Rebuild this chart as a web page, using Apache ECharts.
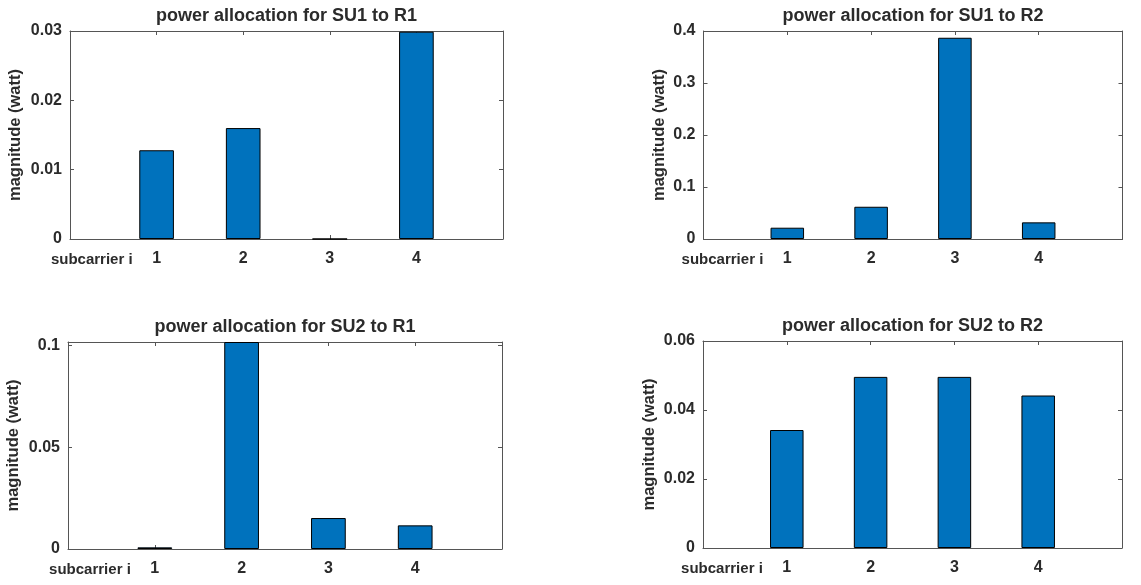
<!DOCTYPE html>
<html>
<head>
<meta charset="utf-8">
<script src="https://cdn.jsdelivr.net/npm/echarts@6/dist/echarts.min.js"></script>
<style>
html,body{margin:0;padding:0;background:#fff;}
#chart{width:1141px;height:585px;}
</style>
</head>
<body>
<div id="chart"></div>
<script>
// ---- data ----
const subcarriers = [1, 2, 3, 4];
const su1ToR1 = [0.0128, 0.0160, 0, 0.0299];
const su1ToR2 = [0.0217, 0.062, 0.387, 0.032];
const su2ToR1 = [0.0008, 0.1016, 0.0152, 0.0116];
const su2ToR2 = [0.0342, 0.0496, 0.0496, 0.0442];
const titles = ['power allocation for SU1 to R1', 'power allocation for SU1 to R2',
                'power allocation for SU2 to R1', 'power allocation for SU2 to R2'];
const yMax = [0.03, 0.4, 0.1016, 0.06];
const yInterval = [0.01, 0.1, 0.05, 0.02];
const yLabel = 'magnitude (watt)';
const xLabel = 'subcarrier i';

// ---- layout ----
const grids = [
  {left: 70, top: 31, width: 433, height: 208, yGap: 46},
  {left: 703.5, top: 31, width: 419, height: 208, yGap: 36},
  {left: 68, top: 342, width: 434, height: 207, yGap: 46},
  {left: 703, top: 341, width: 419, height: 207, yGap: 45}
];
const allSeries = [su1ToR1, su1ToR2, su2ToR1, su2ToR2];
const FONT = '"Liberation Sans", Arial, Helvetica, sans-serif';
const TEXT = '#2b2b2b';
const LINE = '#555555';
const BAR = '#0072BD';

const chart = echarts.init(document.getElementById('chart'));
const option = {
  animation: false,
  backgroundColor: '#fff',
  grid: [], xAxis: [], yAxis: [], series: [], graphic: []
};

grids.forEach((g, i) => {
  option.grid.push({left: g.left, top: g.top, width: g.width, height: g.height, show: false, containLabel: false});
  const iv = yInterval[i];
  // bottom x axis
  option.xAxis.push({
    type: 'value', gridIndex: i, min: 0, max: 5, interval: 1, position: 'bottom',
    axisLine: {show: true, onZero: false, lineStyle: {color: LINE, width: 1}},
    axisTick: {show: true, inside: true, length: 4, lineStyle: {color: LINE}},
    splitLine: {show: false},
    axisLabel: {
      show: true, margin: 12, color: TEXT, fontFamily: FONT, fontWeight: 'bold', fontSize: 16,
      formatter: v => (v >= 1 && v <= 4) ? String(v) : ''
    }
  });
  // top mirror x axis
  option.xAxis.push({
    type: 'value', gridIndex: i, min: 0, max: 5, interval: 1, position: 'top',
    axisLine: {show: true, onZero: false, lineStyle: {color: LINE, width: 1}},
    axisTick: {show: true, inside: true, length: 4, lineStyle: {color: LINE}},
    splitLine: {show: false}, axisLabel: {show: false}
  });
  // left y axis
  option.yAxis.push({
    type: 'value', gridIndex: i, min: 0, max: yMax[i], interval: iv, position: 'left',
    name: yLabel, nameLocation: 'middle', nameRotate: 90, nameGap: g.yGap,
    nameTextStyle: {color: TEXT, fontFamily: FONT, fontWeight: 'bold', fontSize: 16.5},
    axisLine: {show: true, onZero: false, lineStyle: {color: LINE, width: 1}},
    axisTick: {show: true, inside: true, length: 4, lineStyle: {color: LINE}},
    splitLine: {show: false},
    axisLabel: {
      show: true, margin: 8, color: TEXT, fontFamily: FONT, fontWeight: 'bold', fontSize: 16,
      showMaxLabel: true,
      formatter: v => {
        const r = v / iv;
        if (Math.abs(r - Math.round(r)) > 1e-6) return '';
        return String(parseFloat((Math.round(r) * iv).toFixed(6)));
      }
    }
  });
  // right mirror y axis
  option.yAxis.push({
    type: 'value', gridIndex: i, min: 0, max: yMax[i], interval: iv, position: 'right',
    axisLine: {show: true, onZero: false, lineStyle: {color: LINE, width: 1}},
    axisTick: {show: true, inside: true, length: 4, lineStyle: {color: LINE}},
    splitLine: {show: false}, axisLabel: {show: false}
  });

  option.series.push({
    type: 'bar', xAxisIndex: i * 2, yAxisIndex: i * 2,
    data: subcarriers.map((c, k) => [c, allSeries[i][k]]),
    barWidth: g.width / 5 * 0.4,
    itemStyle: {color: BAR, borderColor: '#000', borderWidth: 1},
    clip: true,
    silent: true
  });

  // title
  option.graphic.push({
    type: 'text', x: g.left + g.width / 2, y: g.top - 15,
    style: {text: titles[i], fill: TEXT, font: 'bold 18px ' + FONT, textAlign: 'center', textVerticalAlign: 'middle'}
  });
  // x label
  option.graphic.push({
    type: 'text', x: g.left + g.width / 5 - 24, y: g.top + g.height + 21,
    style: {text: xLabel, fill: TEXT, font: 'bold 15px ' + FONT, textAlign: 'right', textVerticalAlign: 'middle'}
  });
});

chart.setOption(option);
</script>
</body>
</html>
